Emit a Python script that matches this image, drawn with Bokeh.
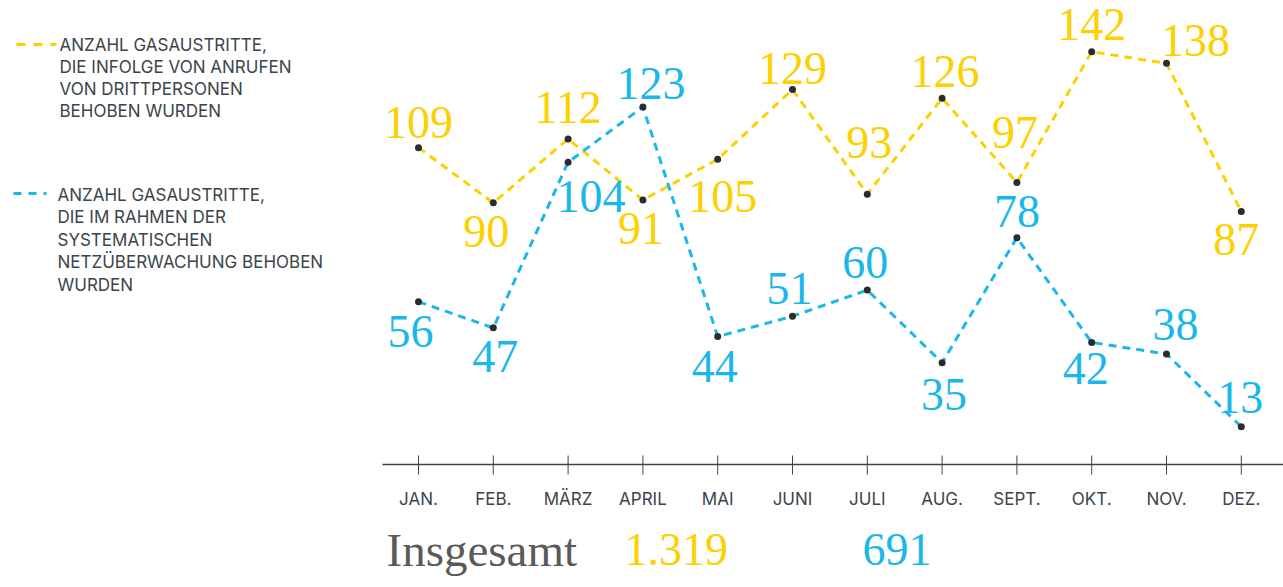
from bokeh.plotting import figure
from bokeh.models import Range1d, ColumnDataSource
from bokeh.core.properties import value
from bokeh.embed import file_html
from bokeh.resources import INLINE

# ---------------- data ----------------
months = ["JAN.", "FEB.", "MÄRZ", "APRIL", "MAI", "JUNI", "JULI", "AUG.", "SEPT.", "OKT.", "NOV.", "DEZ."]
anrufe = [109, 90, 112, 91, 105, 129, 93, 126, 97, 142, 138, 87]
netz = [56, 47, 104, 123, 44, 51, 60, 35, 78, 42, 38, 13]
legend_anrufe = ["ANZAHL GASAUSTRITTE,", "DIE INFOLGE VON ANRUFEN", "VON DRITTPERSONEN", "BEHOBEN WURDEN"]
legend_netz = ["ANZAHL GASAUSTRITTE,", "DIE IM RAHMEN DER", "SYSTEMATISCHEN", "NETZÜBERWACHUNG BEHOBEN", "WURDEN"]
total_label = "Insgesamt"

# ---------------- styles ----------------
YELLOW = "#FDD000"
BLUE = "#1AB8EA"
DARK = "#3a454b"
DOT = "#2a2d2f"
SERIF = value("Liberation Serif")
SANS = value("Inter")

# label offsets (pixels) relative to each point
anrufe_dx = [0, -7, 0, -2, 5, 0, 2, 3, -2, 0, 29, -5]
anrufe_dy = [-25, 29, -31, 29, 37, -21, -52, -27, -50, -27, -23, 28]
netz_dx = [-8, 2, 23, 8, -3, -3, -2, 2, 0, -6, 9, -1]
netz_dy = [30, 29, 34, -23, 30, -28, -28, 32, -26, 26, -30, -29]

W, H = 1283, 587
OFF = 0                           # page offset of the canvas
JAN_PX, MONTH_PX = 418, 74.8      # screen x of first month, px per month
ZERO_PX, UNIT_PX = 464, 2.907     # screen y of value 0, px per unit


def sx(px):
    return (px - JAN_PX) / MONTH_PX


def sy(py):
    return (ZERO_PX - py) / UNIT_PX


p = figure(width=W, height=H, output_backend="svg", toolbar_location=None,
           x_range=Range1d(sx(OFF), sx(OFF + W)), y_range=Range1d(sy(OFF + H), sy(OFF)),
           min_border=0, outline_line_color=None)
p.axis.visible = False
p.grid.visible = False
p.background_fill_color = "white"
p.border_fill_color = "white"

xs = list(range(len(months)))

# axis line and ticks
p.segment(x0=[sx(382)], y0=[0], x1=[sx(1290)], y1=[0], line_color=DARK, line_width=1.3)
p.segment(x0=xs, y0=[sy(455)] * len(xs), x1=xs, y1=[sy(474)] * len(xs), line_color=DARK, line_width=1)
p.text(x=xs, y=[sy(498)] * len(xs), text=months, text_align="center", text_baseline="middle",
       text_font=SANS, text_font_size="17px", text_color=DARK)

# series
for vals, col, dx, dy in [(anrufe, YELLOW, anrufe_dx, anrufe_dy), (netz, BLUE, netz_dx, netz_dy)]:
    src = ColumnDataSource(dict(x=xs, y=vals, t=[str(v) for v in vals], dx=dx, dy=dy))
    p.line("x", "y", source=src, line_color=col, line_width=3, line_dash="8 6")
    p.scatter("x", "y", source=src, size=7, fill_color=DOT, line_color=None)
    p.text("x", "y", text="t", source=src, x_offset="dx", y_offset="dy", text_align="center",
           text_baseline="middle", text_font=SERIF, text_font_size="46px", text_color=col)

# legend
p.line(x=[sx(16), sx(56)], y=[sy(44), sy(44)], line_color=YELLOW, line_width=3, line_dash="9 8")
p.text(x=[sx(59)] * len(legend_anrufe),
       y=[sy(44 + 22 * i) for i in range(len(legend_anrufe))], text=legend_anrufe,
       text_baseline="middle", text_font=SANS, text_font_size="17px", text_color=DARK)
p.line(x=[sx(13), sx(46)], y=[sy(193), sy(193)], line_color=BLUE, line_width=3, line_dash="8 7")
p.text(x=[sx(57)] * len(legend_netz),
       y=[sy(194 + 22.5 * i) for i in range(len(legend_netz))], text=legend_netz,
       text_baseline="middle", text_font=SANS, text_font_size="17px", text_color=DARK)

# totals
tot_a = f"{sum(anrufe):,}".replace(",", ".")
tot_n = f"{sum(netz):,}".replace(",", ".")
p.text(x=[sx(386)], y=[sy(549)], text=[total_label], text_baseline="middle",
       text_font=SERIF, text_font_size="47px", text_color="#5a5a5a")
p.text(x=[sx(624)], y=[sy(549)], text=[tot_a], text_baseline="middle",
       text_font=SERIF, text_font_size="46px", text_color=YELLOW)
p.text(x=[sx(862)], y=[sy(549)], text=[tot_n], text_baseline="middle",
       text_font=SERIF, text_font_size="46px", text_color=BLUE)

open("out.html", "w").write(file_html(p, INLINE))
